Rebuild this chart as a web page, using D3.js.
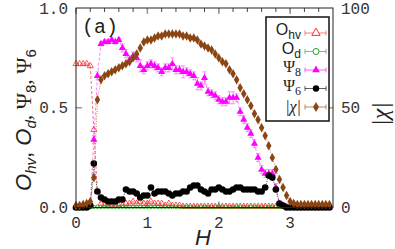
<!DOCTYPE html>
<html>
<head>
<meta charset="utf-8">
<script src="https://cdn.jsdelivr.net/npm/d3@7"></script>
<style>
  body { margin: 0; background: #fff; }
  svg { display: block; }
  .tick-label { font-family: 'Liberation Mono', monospace; font-size: 16px; fill: #333; }
</style>
</head>
<body>
<svg id="chart" width="395" height="249"></svg>
<script>
// field H, step 0.05 from 0 to 3.55
const H = d3.range(72).map(i => +(i * 0.05).toFixed(2))

const Ohv = [0.72, 0.72, 0.72, 0.72, 0.71, 0.39, 0.08, 0.02, 0.01, 0.01,
  0.01, 0.01, 0.01, 0.01, 0.02, 0.02, 0.03, 0.02, 0.03, 0.02,
  0.02, 0.03, 0.02, 0.02, 0.02, 0.01, 0.02, 0.01, 0.01, 0.01,
  0.005, 0.005, 0.005, 0.005, 0.005, 0.005, 0.005, 0.005, 0.005, 0.005,
  0.005, 0.005, 0.005, 0.005, 0.005, 0.005, 0.005, 0.005, 0.005, 0.005,
  0.005, 0.005, 0.005, 0.005, 0.005, 0.005, 0.005, 0.005, 0.005, 0.005,
  0.005, 0.005, 0.005, 0.005, 0.005, 0.005, 0.005, 0.005, 0.005, 0.005,
  0.005, 0.005]

const Od = [0.002, 0.002, 0.002, 0.002, 0.002, 0.003, 0.003, 0.003, 0.003, 0.003,
  0.003, 0.003, 0.003, 0.003, 0.003, 0.003, 0.003, 0.003, 0.003, 0.003,
  0.003, 0.003, 0.003, 0.003, 0.003, 0.003, 0.003, 0.003, 0.003, 0.003,
  0.003, 0.003, 0.003, 0.003, 0.003, 0.003, 0.003, 0.003, 0.003, 0.003,
  0.003, 0.003, 0.003, 0.003, 0.003, 0.003, 0.003, 0.003, 0.003, 0.003,
  0.003, 0.003, 0.003, 0.003, 0.003, 0.003, 0.003, 0.003, 0.003, 0.003,
  0.003, 0.003, 0.003, 0.003, 0.003, 0.003, 0.003, 0.003, 0.003, 0.003,
  0.003, 0.003]

const Psi8 = [0, 0, 0, 0, 0.01, 0.34, 0.66, 0.82, 0.83, 0.83,
  0.84, 0.83, 0.84, 0.80, 0.77, 0.74, 0.76, 0.75, 0.71, 0.69,
  0.71, 0.72, 0.71, 0.70, 0.68, 0.70, 0.70, 0.72, 0.69, 0.69,
  0.68, 0.68, 0.67, 0.66, 0.62, 0.61, 0.65, 0.58, 0.57, 0.56,
  0.54, 0.53, 0.53, 0.55, 0.55, 0.55, 0.48, 0.44, 0.40, 0.37,
  0.32, 0.25, 0.19, 0.17, 0.17, 0.17, 0.10, 0.02, 0.01, 0,
  0, 0, 0, 0, 0, 0, 0, 0, 0, 0,
  0, 0]

const Psi8Err = [0, 0, 0, 0, 0, 0.02, 0.02, 0.01, 0.01, 0.01,
  0.01, 0.01, 0.01, 0.02, 0.02, 0.02, 0.02, 0.02, 0.03, 0.02,
  0.02, 0.02, 0.02, 0.02, 0.02, 0.02, 0.02, 0.03, 0.02, 0.02,
  0.03, 0.02, 0.02, 0.02, 0.03, 0.02, 0.03, 0.02, 0.02, 0.02,
  0.02, 0.02, 0.02, 0.03, 0.03, 0.02, 0.02, 0.02, 0.02, 0.02,
  0.02, 0.02, 0.02, 0.02, 0.02, 0.02, 0.02, 0.01, 0, 0,
  0, 0, 0, 0, 0, 0, 0, 0, 0, 0,
  0, 0]

const Psi6 = [0, 0, 0, 0, 0.01, 0.22, 0.08, 0.05, 0.04, 0.03,
  0.03, 0.03, 0.04, 0.04, 0.09, 0.08, 0.08, 0.07, 0.05, 0.06,
  0.06, 0.10, 0.07, 0.08, 0.08, 0.08, 0.07, 0.06, 0.07, 0.07,
  0.08, 0.08, 0.10, 0.11, 0.11, 0.09, 0.08, 0.07, 0.09, 0.09,
  0.10, 0.09, 0.08, 0.08, 0.09, 0.10, 0.10, 0.09, 0.09, 0.09,
  0.09, 0.08, 0.08, 0.10, 0.16, 0.15, 0.09, 0.02, 0.01, 0,
  0, 0, 0, 0, 0, 0, 0, 0, 0, 0,
  0, 0]

const Chi = [1, 1, 1.5, 2, 3, 15, 54, 64, 66, 67,
  68, 69, 70, 71, 72, 73, 75, 77, 80, 83,
  84, 84, 85, 86, 86, 87, 87, 87, 87, 87,
  86, 86, 85, 85, 84, 82, 81, 80, 79, 77,
  75, 73, 72, 69, 67, 64, 60, 57, 54, 51,
  47, 44, 40, 36, 31, 25, 19, 14, 10, 6,
  3, 2, 1.5, 1.5, 1.5, 1.5, 1.5, 1.5, 1.5, 1.5,
  1.5, 1.5]

const xTicks = [0, 1, 2, 3]
const yTicks = [0, 0.5, 1]
const y2Ticks = [0, 50, 100]

const svg = d3.select('#chart')
const plotLeft = 76, plotRight = 333, plotTop = 8, plotBottom = 207.5

const x = d3.scaleLinear().domain([0, 3.6]).range([plotLeft, plotRight])
const y = d3.scaleLinear().domain([0, 1]).range([plotBottom, plotTop])
const y2 = d3.scaleLinear().domain([0, 100]).range([plotBottom, plotTop])

// minor and major ticks, drawn inward
const minor = d3.range(0, 3.6, 0.2)
svg.selectAll('.mtick').data(minor).enter().append('line')
  .attr('x1', d => x(d)).attr('x2', d => x(d))
  .attr('y1', plotTop).attr('y2', plotTop + 4)
  .attr('stroke', '#444').attr('stroke-width', 1)
svg.selectAll('.Mtick').data(xTicks).enter().append('line')
  .attr('x1', d => x(d)).attr('x2', d => x(d))
  .attr('y1', plotTop).attr('y2', plotTop + 6)
  .attr('stroke', '#999').attr('stroke-width', 1.5)
svg.selectAll('.btick').data(xTicks).enter().append('line')
  .attr('x1', d => x(d)).attr('x2', d => x(d))
  .attr('y1', plotBottom).attr('y2', plotBottom - 6)
  .attr('stroke', '#999').attr('stroke-width', 1.5)
svg.append('line')
  .attr('x1', plotLeft).attr('x2', plotLeft + 6)
  .attr('y1', y(0.5)).attr('y2', y(0.5))
  .attr('stroke', '#999').attr('stroke-width', 1.5)
svg.append('line')
  .attr('x1', plotRight).attr('x2', plotRight - 6)
  .attr('y1', y2(50)).attr('y2', y2(50))
  .attr('stroke', '#999').attr('stroke-width', 1.5)

// tick labels
svg.selectAll('.xl').data(xTicks).enter().append('text')
  .attr('class', 'tick-label')
  .attr('x', d => x(d)).attr('y', 228)
  .attr('text-anchor', 'middle')
  .text(d => d)
svg.selectAll('.yl').data(yTicks).enter().append('text')
  .attr('class', 'tick-label')
  .attr('x', 68).attr('y', d => y(d) + 5.5)
  .attr('text-anchor', 'end')
  .text(d => d.toFixed(1))
svg.selectAll('.y2l').data(y2Ticks).enter().append('text')
  .attr('class', 'tick-label')
  .attr('x', 341).attr('y', d => y2(d) + 5.5)
  .text(d => d)

const rows = H.map((h, i) => ({ h, ohv: Ohv[i], od: Od[i], p8: Psi8[i], e8: Psi8Err[i], p6: Psi6[i], chi: Chi[i] }))

const plot = svg.append('g')

function series(key, scale, color, dash, width) {
  const line = d3.line().x(d => x(d.h)).y(d => scale(d[key]))
  plot.append('path').datum(rows)
    .attr('d', line)
    .attr('fill', 'none')
    .attr('stroke', color)
    .attr('stroke-opacity', 0.7)
    .attr('stroke-width', width)
    .attr('stroke-dasharray', dash)
}

// O_hv
series('ohv', y, '#ff3030', '3,2', 1)
plot.selectAll('.ohv').data(rows).enter().append('path')
  .attr('transform', d => `translate(${x(d.h)},${y(d.ohv)})`)
  .attr('d', d3.symbol(d3.symbolTriangle, 16))
  .attr('fill', 'none').attr('stroke', '#ff3030').attr('stroke-width', 0.8)

// O_d
series('od', y, '#20a020', '1,1.5', 1)
plot.selectAll('.od').data(rows).enter().append('circle')
  .attr('cx', d => x(d.h)).attr('cy', d => y(d.od)).attr('r', 1.8)
  .attr('fill', 'none').attr('stroke', '#20a020').attr('stroke-width', 0.8)

// Psi_8
series('p8', y, '#ff40ff', '3,2', 1)
plot.selectAll('.e8').data(rows.filter(d => d.e8 > 0)).enter().append('path')
  .attr('d', d => {
    const cx = x(d.h), y0 = y(d.p8 - d.e8), y1 = y(d.p8 + d.e8)
    return `M${cx},${y0}V${y1}M${cx - 2},${y0}H${cx + 2}M${cx - 2},${y1}H${cx + 2}`
  })
  .attr('stroke', '#ff70ff').attr('stroke-width', 0.8).attr('fill', 'none')
plot.selectAll('.p8').data(rows).enter().append('path')
  .attr('transform', d => `translate(${x(d.h)},${y(d.p8)})`)
  .attr('d', d3.symbol(d3.symbolTriangle, 22))
  .attr('fill', '#ff00ff')

// Psi_6
series('p6', y, '#000', '1,1.5', 1)
plot.selectAll('.p6').data(rows).enter().append('circle')
  .attr('cx', d => x(d.h)).attr('cy', d => y(d.p6)).attr('r', 3.3)
  .attr('fill', '#000')

// |chi|
series('chi', y2, '#a0522d', '1,1.5', 1)
plot.selectAll('.chi').data(rows).enter().append('path')
  .attr('transform', d => `translate(${x(d.h)},${y2(d.chi)})`)
  .attr('d', d3.symbol(d3.symbolDiamond, 26))
  .attr('fill', '#8b4513')

// frame
svg.append('rect')
  .attr('x', plotLeft).attr('y', plotTop)
  .attr('width', plotRight - plotLeft).attr('height', plotBottom - plotTop)
  .attr('fill', 'none').attr('stroke', '#222').attr('stroke-width', 1)

// panel label
svg.append('text')
  .attr('x', 82).attr('y', 33)
  .attr('font-family', 'Liberation Mono, monospace').attr('font-size', 20)
  .attr('fill', '#222')
  .text('(a)')

// axis titles
svg.append('text')
  .attr('x', 203).attr('y', 245)
  .attr('text-anchor', 'middle')
  .attr('font-family', 'Liberation Sans, sans-serif').attr('font-size', 22)
  .attr('font-style', 'italic').attr('fill', '#222')
  .text('H')

const yl = svg.append('text')
  .attr('transform', 'translate(31,120) rotate(-90)')
  .attr('text-anchor', 'middle')
  .attr('font-family', 'Liberation Sans, sans-serif').attr('font-size', 22)
  .attr('fill', '#222')
yl.append('tspan').attr('font-style', 'italic').text('O')
yl.append('tspan').attr('font-style', 'italic').attr('font-size', 15).attr('dy', 5).text('hv')
yl.append('tspan').attr('dy', -5).text(', ')
yl.append('tspan').attr('font-style', 'italic').text('O')
yl.append('tspan').attr('font-style', 'italic').attr('font-size', 15).attr('dy', 5).text('d')
yl.append('tspan').attr('dy', -5).attr('font-family', 'Liberation Serif, serif').text(', Ψ')
yl.append('tspan').attr('font-size', 15).attr('dy', 5).text('8')
yl.append('tspan').attr('dy', -5).attr('font-family', 'Liberation Serif, serif').text(', Ψ')
yl.append('tspan').attr('font-size', 15).attr('dy', 5).text('6')

svg.append('text')
  .attr('transform', 'translate(388,114) rotate(-90)')
  .attr('text-anchor', 'middle')
  .attr('font-family', 'Liberation Serif, serif').attr('font-size', 24)
  .attr('font-style', 'italic').attr('fill', '#222')
  .text('|χ|')

// legend
const legendItems = [
  { name: 'O', sub: 'hv', color: '#ff3030', mark: 'otri' },
  { name: 'O', sub: 'd', color: '#20a020', mark: 'ocirc' },
  { name: 'Ψ', sub: '8', color: '#ff00ff', mark: 'tri' },
  { name: 'Ψ', sub: '6', color: '#000', mark: 'circ' },
  { name: '|χ|', sub: '', color: '#8b4513', mark: 'diam' }
]
svg.append('rect')
  .attr('x', 266).attr('y', 17).attr('width', 63).attr('height', 104)
  .attr('fill', '#fff').attr('stroke', '#111').attr('stroke-width', 1.5)
const lg = svg.selectAll('.lg').data(legendItems).enter().append('g')
  .attr('transform', (d, i) => `translate(0,${33 + i * 18.5})`)
lg.append('path')
  .attr('d', 'M305,0H326M305,-2.5V2.5M326,-2.5V2.5')
  .attr('stroke', d => d.color).attr('stroke-opacity', 0.7)
  .attr('stroke-width', 0.9)
lg.each(function(d) {
  const g = d3.select(this)
  if (d.mark === 'otri') {
    g.append('path').attr('transform', 'translate(316,0)')
      .attr('d', d3.symbol(d3.symbolTriangle, 30))
      .attr('fill', '#fff').attr('stroke', d.color).attr('stroke-width', 1)
  } else if (d.mark === 'ocirc') {
    g.append('circle').attr('cx', 316).attr('r', 3)
      .attr('fill', '#fff').attr('stroke', d.color).attr('stroke-width', 1)
  } else if (d.mark === 'tri') {
    g.append('path').attr('transform', 'translate(316,0)')
      .attr('d', d3.symbol(d3.symbolTriangle, 26)).attr('fill', d.color)
  } else if (d.mark === 'circ') {
    g.append('circle').attr('cx', 316).attr('r', 3.2).attr('fill', d.color)
  } else {
    g.append('path').attr('transform', 'translate(316,0)')
      .attr('d', d3.symbol(d3.symbolDiamond, 30)).attr('fill', d.color)
  }
  const t = g.append('text')
    .attr('x', 301).attr('y', d.sub ? 2 : 5)
    .attr('text-anchor', 'end')
    .attr('font-family', d.name === 'O' ? 'Liberation Sans, sans-serif' : 'Liberation Serif, serif')
    .attr('font-size', 16).attr('fill', '#222')
  t.append('tspan').attr('font-style', d.name === '|χ|' ? 'italic' : null).text(d.name)
  if (d.sub) t.append('tspan').attr('font-size', 12).attr('dy', 4).text(d.sub)
})
</script>
</body>
</html>
